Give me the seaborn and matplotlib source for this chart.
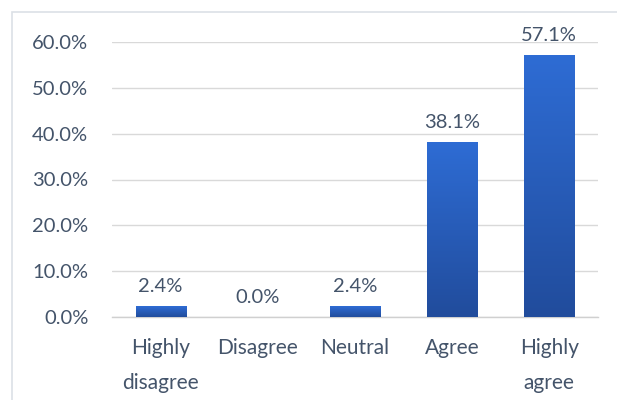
import numpy as np
import pandas as pd
import seaborn as sns
import matplotlib.pyplot as plt
from matplotlib.patches import Rectangle
from matplotlib.colors import LinearSegmentedColormap

# === données ===
categories = ["Highly\ndisagree", "Disagree", "Neutral", "Agree", "Highly\nagree"]
valeurs = [2.4, 0.0, 2.4, 38.1, 57.1]
yticks = [0, 10, 20, 30, 40, 50, 60]

df = pd.DataFrame({"reponse": categories, "pct": valeurs})

sns.set_theme(style="white")
plt.rcParams["font.family"] = ["Lato", "DejaVu Sans"]
couleur_txt = "#44546A"
taille = 14.5

fig = plt.figure(figsize=(6.17, 4.00), dpi=100)
ax = fig.add_axes([0.1815, 0.2075, 0.7875, 0.6875])

sns.barplot(data=df, x="reponse", y="pct", ax=ax, color="#2A5FBF",
            width=0.515, saturation=1)

# dégradé vertical dans chaque barre
grad = LinearSegmentedColormap.from_list("bleu", ["#214C9C", "#2E6CD4"])
gradient = np.linspace(0, 1, 256).reshape(-1, 1)
for bar in ax.patches:
    x0, y0 = bar.get_x(), bar.get_y()
    w, h = bar.get_width(), bar.get_height()
    if h <= 0:
        bar.set_visible(False)
        continue
    im = ax.imshow(gradient, cmap=grad, aspect="auto", origin="lower",
                   extent=[x0, x0 + w, y0, y0 + h], zorder=3)
    im.set_clip_path(bar)
    bar.set_edgecolor("none")

# étiquettes de valeurs
for i, v in enumerate(valeurs):
    ax.annotate(f"{v:.1f}%", (i, v), xytext=(0, 8), textcoords="offset points",
                ha="center", va="bottom", fontsize=taille, color=couleur_txt,
                annotation_clip=False)

ax.set_xlim(-0.5, 4.5)
ax.set_ylim(0, 60)
ax.set_yticks(yticks)
ax.set_yticklabels([f"{t:.1f}%" for t in yticks])
ax.yaxis.grid(True, color="#D9D9D9", linewidth=1)
ax.set_axisbelow(True)
ax.set_xlabel("")
ax.set_ylabel("")
ax.tick_params(axis="y", length=0, pad=17, labelsize=taille, labelcolor=couleur_txt)
ax.tick_params(axis="x", length=0, pad=15, labelsize=15, labelcolor=couleur_txt)
for lbl in ax.get_xticklabels():
    lbl.set_linespacing(1.95)

for s in ["top", "right", "left"]:
    ax.spines[s].set_visible(False)
ax.spines["bottom"].set_color("#D0D0D0")
ax.spines["bottom"].set_linewidth(1)

# cadre du graphique
fig.patches.append(Rectangle((12 / 617, -0.05), 1.0, 1.05 - 12 / 400,
                             transform=fig.transFigure, fill=False,
                             edgecolor="#DCE0E6", linewidth=1.2))

fig.savefig("out.png", dpi=100)
